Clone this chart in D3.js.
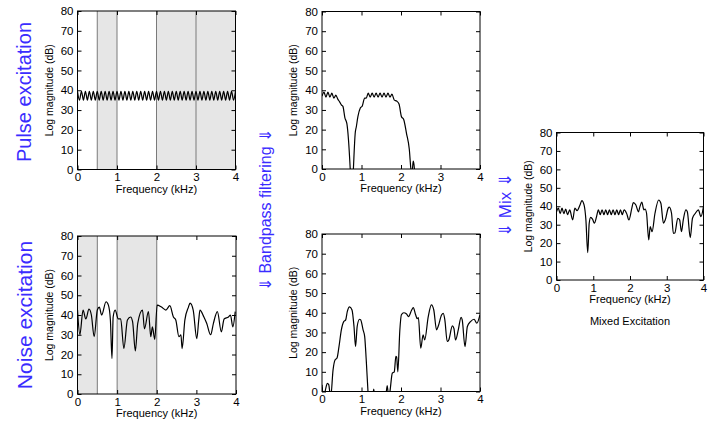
<!DOCTYPE html>
<html>
<head>
<meta charset="utf-8">
<script src="https://cdn.jsdelivr.net/npm/d3@7"></script>
<style>
  body { margin: 0; background: #fff; }
  svg { display: block; font-family: "Liberation Sans", Arial, sans-serif; }
</style>
</head>
<body>
<svg id="chart" width="712" height="425"></svg>
<script>
// frequency axis ticks (kHz) and magnitude ticks (dB)
const FREQ_TICKS = [0, 1, 2, 3, 4];
const DB_TICKS = [0, 10, 20, 30, 40, 50, 60, 70, 80];

// pulse train spectrum, one value every 0.05 kHz
const pulseDb = [
  39.5, 35, 39.5, 35, 39.5, 35, 39.5, 35, 39.5, 35,
  39.5, 35, 39.5, 35, 39.5, 35, 39.5, 35, 39.5, 35,
  39.5, 35, 39.5, 35, 39.5, 35, 39.5, 35, 39.5, 35,
  39.5, 35, 39.5, 35, 39.5, 35, 39.5, 35, 39.5, 35,
  39.5, 35, 39.5, 35, 39.5, 35, 39.5, 35, 39.5, 35,
  39.5, 35, 39.5, 35, 39.5, 35, 39.5, 35, 39.5, 35,
  39.5, 35, 39.5, 35, 39.5, 35, 39.5, 35, 39.5, 35,
  39.5, 35, 39.5, 35, 39.5, 35, 39.5, 35, 39.5, 35, 39.5
];
const pulse = pulseDb.map((v, i) => [i * 0.05, v]);

// [kHz, dB]
const noise = [
  [0,42.5],[0.06,30],[0.14,42.5],[0.21,38],[0.29,43],[0.35,40],[0.42,29],[0.50,42.5],
  [0.55,44],[0.61,40],[0.72,46.7],[0.78,45],[0.83,37.5],[0.87,18],[0.90,39],[0.95,42.5],
  [1.03,38],[1.09,38],[1.17,23],[1.26,37.5],[1.34,39],[1.39,36.6],[1.46,21.8],[1.52,35.8],
  [1.64,42.5],[1.69,33],[1.79,41.7],[1.85,29],[1.89,34],[1.95,27.7],[2.01,45],[2.12,44],
  [2.23,42.5],[2.33,44.7],[2.42,39],[2.48,37.5],[2.56,29],[2.61,30],[2.64,23],[2.71,37.5],
  [2.80,44],[2.84,46],[2.92,42.5],[3.01,28],[3.06,37.5],[3.09,42.5],[3.19,39],[3.26,35.8],
  [3.36,30],[3.43,35.8],[3.53,41.7],[3.63,31.5],[3.70,38],[3.81,39],[3.86,40],[3.92,34],[3.98,41.7]
];

const pulseFiltered = [
  [0,37],[0.05,39],[0.1,36.5],[0.15,39],[0.2,36.5],[0.25,38.5],[0.3,36],[0.35,37.5],[0.4,35.5],
  [0.45,34],[0.49,32.6],[0.53,31.8],[0.58,26],[0.63,23],[0.67,15],[0.72,-2],[0.74,-10],[0.77,-10],
  [0.79,-2],[0.84,18],[0.87,21.6],[0.91,26.7],[0.97,31],[1.02,32],[1.08,36],[1.12,36],[1.17,38.5],
  [1.22,36.5],[1.27,38.5],[1.32,36.5],[1.37,38.5],[1.42,36.5],[1.47,38.5],[1.52,36.5],[1.57,38.5],
  [1.62,36.5],[1.67,38.5],[1.72,36.5],[1.77,38],[1.83,35],[1.89,34.5],[1.95,33],[2.01,26.7],
  [2.07,25],[2.14,18],[2.21,10],[2.25,0],[2.27,-3],[2.29,0],[2.31,4],[2.34,0],[2.36,-10],[4,-10]
];

const noiseFiltered = [
  [0,3.4],[0.04,-3],[0.1,2],[0.135,4.2],[0.17,3.5],[0.22,-3],[0.28,11],[0.33,16],[0.38,17],
  [0.43,22.8],[0.49,31.3],[0.55,35.5],[0.60,36.4],[0.64,40.6],[0.70,43],[0.76,41.4],[0.81,33],
  [0.85,22.8],[0.89,33],[0.95,36.7],[0.98,36.4],[1.04,31.3],[1.08,28],[1.12,16],[1.17,-2],
  [1.2,-10],[1.27,-5],[1.31,1.2],[1.35,-5],[1.6,-5],[1.65,3],[1.69,-3],[1.72,0],[1.78,9.3],
  [1.83,10],[1.87,17.8],[1.89,17.5],[1.92,10],[1.97,31],[2.01,39],[2.07,40],[2.14,39.4],
  [2.19,38],[2.27,41.4],[2.31,42.6],[2.37,39],[2.41,37],[2.44,37.5],[2.50,22],[2.56,28.8],
  [2.60,26.2],[2.69,38],[2.77,44],[2.83,41.4],[2.90,31.3],[2.94,33],[3.03,39],[3.07,39.7],
  [3.11,36.4],[3.17,25.4],[3.21,26.2],[3.30,33.3],[3.34,32],[3.38,26.2],[3.45,31.3],[3.52,37.7],
  [3.55,36.4],[3.62,22.8],[3.68,33],[3.76,35.5],[3.85,36.7],[3.92,34.7],[4.0,39]
];

const mixed = [
  [0,37],[0.05,39],[0.1,36],[0.15,39],[0.2,36],[0.25,38.5],[0.3,35.5],[0.36,38],[0.44,32.6],
  [0.5,39],[0.56,37.6],[0.64,40.7],[0.69,43],[0.75,40.7],[0.8,32.6],[0.85,14.8],[0.89,30.8],
  [0.93,34],[0.98,33],[1.03,30.8],[1.09,34.4],[1.14,38],[1.19,35.5],[1.24,38],[1.29,35.5],
  [1.34,38],[1.39,35.5],[1.44,38],[1.49,35.5],[1.54,38],[1.59,35.5],[1.64,38],[1.69,35.5],
  [1.74,38],[1.79,35.5],[1.84,38],[1.91,36],[1.97,32.6],[2.05,39],[2.09,42],[2.16,40.7],
  [2.23,37],[2.27,39.8],[2.32,42.2],[2.38,38],[2.41,38.5],[2.45,36.2],[2.51,21.7],[2.55,29],
  [2.60,26.2],[2.68,36.2],[2.78,43.4],[2.84,41.6],[2.91,30.8],[2.96,32.6],[3.04,39],[3.07,39.5],
  [3.13,36.2],[3.18,25.3],[3.22,25.5],[3.30,33.5],[3.35,32.6],[3.40,26.2],[3.45,32.6],[3.52,38],
  [3.56,37],[3.64,23],[3.70,33.5],[3.78,36.2],[3.86,38],[3.93,34.4],[4.0,39.8]
];

// shaded bands (kHz) and band edge lines
const pulseBands = [[0.5, 1], [2, 4]];
const pulseEdges = [0.5, 1, 2, 3];
const noiseBands = [[0, 0.5], [1, 2]];
const noiseEdges = [0.5, 1, 2];

const BLUE = "#3a2cff";
const svg = d3.select("#chart");

function drawPanel(id, frame, series, bands, edges, caption) {
  const [left, top, w, h] = frame;
  const x = d3.scaleLinear().domain([0, 4]).range([left, left + w]);
  const y = d3.scaleLinear().domain([0, 80]).range([top + h, top]);
  const g = svg.append("g");

  g.append("clipPath").attr("id", "clip" + id)
    .append("rect").attr("x", left).attr("y", top).attr("width", w).attr("height", h);

  g.selectAll("rect.band")
    .data(bands)
    .join("rect")
    .attr("class", "band")
    .attr("x", d => x(d[0]))
    .attr("y", top)
    .attr("width", d => x(d[1]) - x(d[0]))
    .attr("height", h)
    .attr("fill", "#e6e6e6");

  g.selectAll("line.edge")
    .data(edges)
    .join("line")
    .attr("class", "edge")
    .attr("x1", d => x(d)).attr("x2", d => x(d))
    .attr("y1", top).attr("y2", top + h)
    .attr("stroke", "#7a7a7a")
    .attr("stroke-width", 1);

  // inward ticks on all four sides
  const fmt = d3.format("d");
  const bottom = g.append("g").attr("transform", `translate(0,${top + h})`)
    .call(d3.axisBottom(x).tickValues(FREQ_TICKS).tickFormat(fmt).tickSize(-4).tickSizeOuter(0).tickPadding(5));
  g.append("g").attr("transform", `translate(${left},0)`)
    .call(d3.axisLeft(y).tickValues(DB_TICKS).tickFormat(fmt).tickSize(-4).tickSizeOuter(0).tickPadding(4));
  g.append("g").attr("transform", `translate(0,${top})`)
    .call(d3.axisTop(x).tickValues(FREQ_TICKS).tickSize(-4).tickSizeOuter(0).tickFormat(""));
  g.append("g").attr("transform", `translate(${left + w},0)`)
    .call(d3.axisRight(y).tickValues(DB_TICKS).tickSize(-4).tickSizeOuter(0).tickFormat(""));
  g.selectAll(".domain").remove();
  g.selectAll(".tick line").attr("stroke", "#000");
  g.selectAll(".tick text").attr("font-size", 11.5).attr("fill", "#000")
    .attr("font-family", "'Liberation Sans', Arial, sans-serif");
  bottom.selectAll(".tick text").attr("dy", "0.6em");

  g.append("path")
    .datum(series)
    .attr("clip-path", `url(#clip${id})`)
    .attr("fill", "none")
    .attr("stroke", "#000")
    .attr("stroke-width", 1.2)
    .attr("d", d3.line().x(d => x(d[0])).y(d => y(d[1])).curve(d3.curveMonotoneX));

  g.append("rect")
    .attr("x", left).attr("y", top).attr("width", w).attr("height", h)
    .attr("fill", "none").attr("stroke", "#000").attr("stroke-width", 1);

  g.append("text")
    .attr("transform", `translate(${left - 25},${top + h / 2}) rotate(-90)`)
    .attr("text-anchor", "middle")
    .attr("font-size", 10.5)
    .text("Log magnitude (dB)");

  g.append("text")
    .attr("x", left + w / 2)
    .attr("y", top + h + 23)
    .attr("text-anchor", "middle")
    .attr("font-size", 11)
    .text("Frequency (kHz)");

  if (caption) {
    g.append("text")
      .attr("x", left + w / 2)
      .attr("y", top + h + 45)
      .attr("text-anchor", "middle")
      .attr("font-size", 11)
      .text(caption);
  }
}

drawPanel(1, [77.5, 11, 158, 158.5], pulse, pulseBands, pulseEdges);
drawPanel(2, [77.5, 236, 158.5, 158], noise, noiseBands, noiseEdges);
drawPanel(3, [322, 11.5, 158, 157.5], pulseFiltered, [], []);
drawPanel(4, [322, 234, 158, 157.5], noiseFiltered, [], []);
drawPanel(5, [556.5, 132.5, 147, 147.5], mixed, [], [], "Mixed Excitation");

// blue side captions
function sideLabel(text, cx, cy, size) {
  svg.append("text")
    .attr("transform", `translate(${cx},${cy}) rotate(-90)`)
    .attr("text-anchor", "middle")
    .attr("dominant-baseline", "central")
    .attr("font-size", size)
    .attr("fill", BLUE)
    .text(text);
}
sideLabel("Pulse excitation", 24, 92, 20);
sideLabel("Noise excitation", 24, 315, 21);
sideLabel("\u21D3 Bandpass filtering \u21D3", 265, 210, 16);
sideLabel("\u21D3 Mix \u21D3", 505, 205, 17);
</script>
</body>
</html>
